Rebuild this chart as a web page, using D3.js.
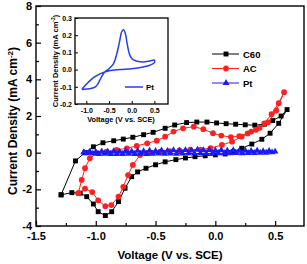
<!DOCTYPE html>
<html>
<head>
<meta charset="utf-8">
<script src="https://cdn.jsdelivr.net/npm/d3@7"></script>
<style>
  body { margin: 0; background: #fff; }
  text { font-family: "Liberation Sans", Arial, sans-serif; font-weight: bold; }
</style>
</head>
<body>
<script>
// C60 loop: upper branch then return along the bottom
var c60Volt = [-1.29, -1.17, -1.09, -1.02, -0.94, -0.85, -0.77, -0.69, -0.60, -0.52, -0.42, -0.34, -0.24, -0.155, -0.07, 0.01, 0.09, 0.17, 0.25, 0.33, 0.41, 0.48, 0.55, 0.60,
  0.53, 0.458, 0.389, 0.305, 0.221, 0.151, 0.082, 0.0, -0.085, -0.17, -0.25, -0.33, -0.42, -0.50, -0.58, -0.65, -0.70, -0.755, -0.81, -0.867, -0.92, -0.98, -1.02, -1.076, -1.13, -1.20, -1.29];
var c60Curr = [-2.30, -0.45, 0.00, 0.32, 0.54, 0.65, 0.74, 0.84, 0.98, 1.11, 1.33, 1.51, 1.64, 1.67, 1.67, 1.62, 1.58, 1.55, 1.52, 1.50, 1.55, 1.75, 2.00, 2.35,
  1.60, 1.06, 0.73, 0.47, 0.24, 0.055, -0.07, -0.12, -0.17, -0.22, -0.29, -0.38, -0.50, -0.66, -0.85, -1.05, -1.31, -1.94, -2.67, -3.22, -3.43, -3.22, -2.80, -2.40, -2.21, -2.18, -2.30];

var acVolt = [-1.146, -1.118, -1.09, -1.05, -0.99, -0.91, -0.825, -0.74, -0.657, -0.57, -0.49, -0.42, -0.35, -0.27, -0.18, -0.10, -0.02, 0.05, 0.13, 0.20, 0.27, 0.34, 0.41, 0.47, 0.53, 0.575,
  0.51, 0.44, 0.37, 0.30, 0.22, 0.14, 0.055, -0.04, -0.125, -0.21, -0.30, -0.38, -0.46, -0.55, -0.63, -0.69, -0.73, -0.77, -0.81, -0.87, -0.92, -0.98, -1.03, -1.09, -1.146];
var acCurr = [-2.21, -1.49, -0.85, -0.31, -0.03, 0.05, 0.15, 0.24, 0.37, 0.51, 0.65, 0.87, 1.15, 1.33, 1.42, 1.28, 1.06, 0.93, 0.85, 0.90, 1.05, 1.25, 1.60, 2.10, 2.70, 3.30,
  2.30, 1.65, 1.35, 1.15, 0.87, 0.60, 0.42, 0.25, 0.17, 0.17, 0.13, 0.09, 0.05, 0.00, -0.13, -0.67, -1.22, -1.86, -2.40, -2.86, -2.92, -2.60, -2.15, -1.96, -2.21];

var ptVolt = [-1.10, -1.05, -1.00, -0.95, -0.90, -0.85, -0.80, -0.75, -0.70, -0.65, -0.60, -0.55, -0.50, -0.45, -0.40, -0.35, -0.30, -0.25, -0.20, -0.15, -0.10, -0.05, 0.00, 0.05, 0.10, 0.15, 0.20, 0.25, 0.30, 0.35, 0.40, 0.45, 0.50,
  0.475, 0.425, 0.375, 0.325, 0.275, 0.225, 0.175, 0.125, 0.075, 0.025, -0.025, -0.075, -0.125, -0.175, -0.225, -0.275, -0.325, -0.375, -0.425, -0.475, -0.525, -0.575, -0.625, -0.675, -0.725, -0.775, -0.825, -0.875, -0.925, -0.975, -1.025, -1.075, -1.10];
var ptCurr = [0.02, 0.06, 0.04, 0.07, 0.05, 0.08, 0.06, 0.09, 0.07, 0.10, 0.08, 0.11, 0.09, 0.12, 0.10, 0.13, 0.11, 0.14, 0.12, 0.16, 0.13, 0.15, 0.12, 0.14, 0.11, 0.13, 0.10, 0.12, 0.09, 0.11, 0.08, 0.10, 0.06,
  0.02, 0.00, -0.01, -0.02, -0.02, -0.03, -0.02, -0.03, -0.04, -0.03, -0.04, -0.05, -0.04, -0.05, -0.04, -0.05, -0.06, -0.05, -0.06, -0.05, -0.06, -0.07, -0.06, -0.07, -0.06, -0.07, -0.08, -0.07, -0.06, -0.07, -0.05, -0.04, 0.02];

// inset: Pt alone on a finer current scale
var insetVolt = [-1.10, -1.00, -0.90, -0.80, -0.75, -0.70, -0.65, -0.60, -0.50, -0.40, -0.33, -0.27, -0.22, -0.18, -0.14, -0.10, -0.05, 0.00, 0.10, 0.20, 0.30, 0.40, 0.50,
  0.50, 0.40, 0.25, 0.00, -0.25, -0.50, -0.60, -0.70, -0.80, -0.90, -1.00, -1.05, -1.10];
var insetCurr = [-0.115, -0.113, -0.110, -0.100, -0.085, -0.060, -0.035, -0.015, 0.005, 0.035, 0.090, 0.160, 0.220, 0.232, 0.210, 0.150, 0.090, 0.065, 0.050, 0.045, 0.045, 0.050, 0.055,
  0.040, 0.025, 0.015, 0.005, 0.000, -0.007, -0.015, -0.025, -0.040, -0.060, -0.085, -0.100, -0.115];

var xTicks = [-1.5, -1.0, -0.5, 0.0, 0.5];
var xMinor = [-1.25, -0.75, -0.25, 0.25];
var yTicks = [-4, -2, 0, 2, 4, 6, 8];
var yMinor = [-3, -1, 1, 3, 5, 7];
var insetXTicks = [-1.0, -0.5, 0.0, 0.5];
var insetYTicks = [-0.2, -0.1, 0.0, 0.1, 0.2, 0.3];
var seriesNames = ['C60', 'AC', 'Pt'];

var width = 307, height = 264;
var svg = d3.select('body').append('svg').attr('width', width).attr('height', height);

var x = d3.scaleLinear().domain([-1.5, 0.75]).range([36, 305]);
var y = d3.scaleLinear().domain([-4, 8]).range([226, 6]);
var ix = d3.scaleLinear().domain([-1.25, 0.8]).range([75, 168]);
var iy = d3.scaleLinear().domain([-0.2, 0.3]).range([104, 18]);

var fmt = function(p) {
  var f = d3.format(p);
  return function(d) { return f(d).replace('\u2212', '-'); };
};

var drawSeries = function(volt, curr, color, marker) {
  var line = d3.line()
    .x(function(d, i) { return x(volt[i]); })
    .y(function(d, i) { return y(curr[i]); });
  svg.append('path')
    .attr('d', line(volt))
    .attr('fill', 'none')
    .attr('stroke', color)
    .attr('stroke-width', 1);
  svg.append('g').selectAll('path')
    .data(volt)
    .enter().append('path')
    .attr('transform', function(d, i) { return 'translate(' + x(volt[i]) + ',' + y(curr[i]) + ')'; })
    .attr('d', d3.symbol().type(marker.type).size(marker.size))
    .attr('fill', color);
};

var markers = [
  {type: d3.symbolSquare, size: 24, color: '#000'},
  {type: d3.symbolCircle, size: 26, color: '#ff2020'},
  {type: d3.symbolTriangle, size: 20, color: '#1a1aff'}
];

drawSeries(c60Volt, c60Curr, markers[0].color, markers[0]);
drawSeries(acVolt, acCurr, markers[1].color, markers[1]);
drawSeries(ptVolt, ptCurr, markers[2].color, markers[2]);

// main axes
var xAxis = svg.append('g').attr('transform', 'translate(0,226)')
  .call(d3.axisBottom(x).tickValues(xTicks).tickFormat(fmt('.1f')).tickSizeInner(-5).tickSizeOuter(0).tickPadding(6));
svg.append('g').attr('transform', 'translate(0,226)')
  .call(d3.axisBottom(x).tickValues(xMinor).tickFormat('').tickSizeInner(-3).tickSizeOuter(0));
var yAxis = svg.append('g').attr('transform', 'translate(36,0)')
  .call(d3.axisLeft(y).tickValues(yTicks).tickFormat(fmt('d')).tickSizeInner(-5).tickSizeOuter(0).tickPadding(4));
svg.append('g').attr('transform', 'translate(36,0)')
  .call(d3.axisLeft(y).tickValues(yMinor).tickFormat('').tickSizeInner(-3).tickSizeOuter(0));
svg.selectAll('.domain').remove();
svg.selectAll('.tick line').attr('stroke', '#000').attr('stroke-width', 1.2);
xAxis.selectAll('text').style('font-size', '11px').attr('fill', '#000');
yAxis.selectAll('text').style('font-size', '11px').attr('fill', '#000');

svg.append('rect')
  .attr('x', 36).attr('y', 6).attr('width', 305 - 36 - 1).attr('height', 220)
  .attr('fill', 'none').attr('stroke', '#000').attr('stroke-width', 1.4);

svg.append('text')
  .attr('x', 170).attr('y', 259).attr('text-anchor', 'middle')
  .style('font-size', '11.5px')
  .text('Voltage (V vs. SCE)');

var yTitle = svg.append('text')
  .attr('transform', 'translate(17,121) rotate(-90)')
  .attr('text-anchor', 'middle')
  .style('font-size', '12px');
yTitle.append('tspan').text('Current Density (mA cm');
yTitle.append('tspan').attr('dy', -4).style('font-size', '8px').text('-2');
yTitle.append('tspan').attr('dy', 4).text(')');

// legend
var legend = svg.append('g');
seriesNames.forEach(function(name, i) {
  var ly = 54 + i * 14.5;
  legend.append('line')
    .attr('x1', 212).attr('x2', 239).attr('y1', ly).attr('y2', ly)
    .attr('stroke', markers[i].color).attr('stroke-width', 1);
  legend.append('path')
    .attr('transform', 'translate(226,' + ly + ')')
    .attr('d', d3.symbol().type(markers[i].type).size(markers[i].size))
    .attr('fill', markers[i].color);
  legend.append('text')
    .attr('x', 243).attr('y', ly + 3.5)
    .style('font-size', '9.5px')
    .text(name);
});

// inset
var inset = svg.append('g');
inset.append('rect')
  .attr('x', 75).attr('y', 18).attr('width', 93).attr('height', 86)
  .attr('fill', '#fff');

var insetLine = d3.line()
  .x(function(d, i) { return ix(insetVolt[i]); })
  .y(function(d, i) { return iy(insetCurr[i]); })
  .curve(d3.curveCatmullRom);
inset.append('path')
  .attr('d', insetLine(insetVolt))
  .attr('fill', 'none')
  .attr('stroke', '#2440e8')
  .attr('stroke-width', 1.5);

var ixAxis = inset.append('g').attr('transform', 'translate(0,104)')
  .call(d3.axisBottom(ix).tickValues(insetXTicks).tickFormat(fmt('.1f')).tickSizeInner(-3).tickSizeOuter(0).tickPadding(4));
var iyAxis = inset.append('g').attr('transform', 'translate(75,0)')
  .call(d3.axisLeft(iy).tickValues(insetYTicks).tickFormat(fmt('.1f')).tickSizeInner(-3).tickSizeOuter(0).tickPadding(3));
inset.selectAll('.domain').remove();
inset.selectAll('.tick line').attr('stroke', '#000');
ixAxis.selectAll('text').style('font-size', '7px').attr('fill', '#000');
iyAxis.selectAll('text').style('font-size', '7px').attr('fill', '#000');

inset.append('rect')
  .attr('x', 75).attr('y', 18).attr('width', 93).attr('height', 86)
  .attr('fill', 'none').attr('stroke', '#000').attr('stroke-width', 1.3);

inset.append('text')
  .attr('x', 121).attr('y', 122).attr('text-anchor', 'middle')
  .style('font-size', '7.4px')
  .text('Voltage (V vs. SCE)');

var iyTitle = inset.append('text')
  .attr('transform', 'translate(58,61) rotate(-90)')
  .attr('text-anchor', 'middle')
  .style('font-size', '7.5px');
iyTitle.append('tspan').text('Current Density (mA cm');
iyTitle.append('tspan').attr('dy', -3).style('font-size', '5px').text('-2');
iyTitle.append('tspan').attr('dy', 3).text(')');

inset.append('line')
  .attr('x1', 125).attr('x2', 143).attr('y1', 87).attr('y2', 87)
  .attr('stroke', '#2440e8').attr('stroke-width', 1.5);
inset.append('text')
  .attr('x', 146).attr('y', 90)
  .style('font-size', '8px')
  .text('Pt');
</script>
</body>
</html>
